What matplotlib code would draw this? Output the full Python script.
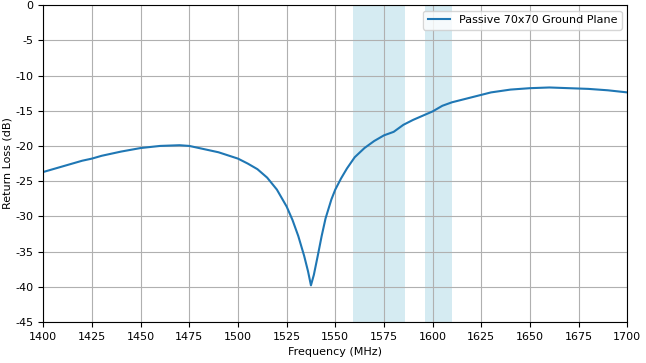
import matplotlib
matplotlib.use('Agg')
import matplotlib.pyplot as plt

plt.rcParams['axes.unicode_minus'] = False

# Return loss readings (MHz, dB)
freq = [1400, 1410, 1420, 1425, 1430, 1440, 1450, 1460, 1465, 1470, 1475, 1480,
        1490, 1500, 1505, 1510, 1515, 1520, 1525, 1528, 1531, 1534, 1536, 1537.5,
        1539, 1541, 1543, 1545, 1548, 1550, 1553, 1556, 1560, 1565, 1570, 1575,
        1580, 1585, 1590, 1595, 1600, 1605, 1610, 1620, 1630, 1640, 1650, 1660,
        1670, 1680, 1690, 1700]
return_loss = [-23.7, -22.9, -22.1, -21.8, -21.4, -20.8, -20.3, -20.0, -19.95, -19.9, -20.0, -20.3,
               -20.9, -21.8, -22.5, -23.3, -24.5, -26.2, -28.6, -30.5, -32.8, -35.6, -37.8, -39.8,
               -38.3, -35.6, -32.8, -30.3, -27.6, -26.2, -24.6, -23.2, -21.6, -20.3, -19.3, -18.5,
               -18.0, -17.0, -16.3, -15.7, -15.1, -14.3, -13.8, -13.1, -12.4, -12.0, -11.8, -11.7,
               -11.8, -11.9, -12.1, -12.4]

# Highlighted bands (MHz)
bands = [(1559, 1586), (1596, 1610)]

fig, ax = plt.subplots(figsize=(6.46, 3.63), dpi=100)

for lo, hi in bands:
    ax.axvspan(lo, hi, color='#add8e6', alpha=0.5, linewidth=0)

ax.plot(freq, return_loss, color='#1f77b4', linewidth=1.5, label='Passive 70x70 Ground Plane')

ax.set_xlim(1400, 1700)
ax.set_ylim(-45, 0)
ax.set_xticks(range(1400, 1701, 25))
ax.set_yticks(range(-45, 1, 5))
ax.tick_params(labelsize=8)
ax.set_xlabel('Frequency (MHz)', fontsize=8)
ax.set_ylabel('Return Loss (dB)', fontsize=8)
ax.yaxis.set_label_coords(-0.053, 0.5)
ax.grid(True, color='#b0b0b0', linewidth=0.8)
ax.legend(loc='upper right', fontsize=8)

plt.subplots_adjust(left=0.067, right=0.971, top=0.986, bottom=0.113)
fig.savefig('out.png', dpi=100)
